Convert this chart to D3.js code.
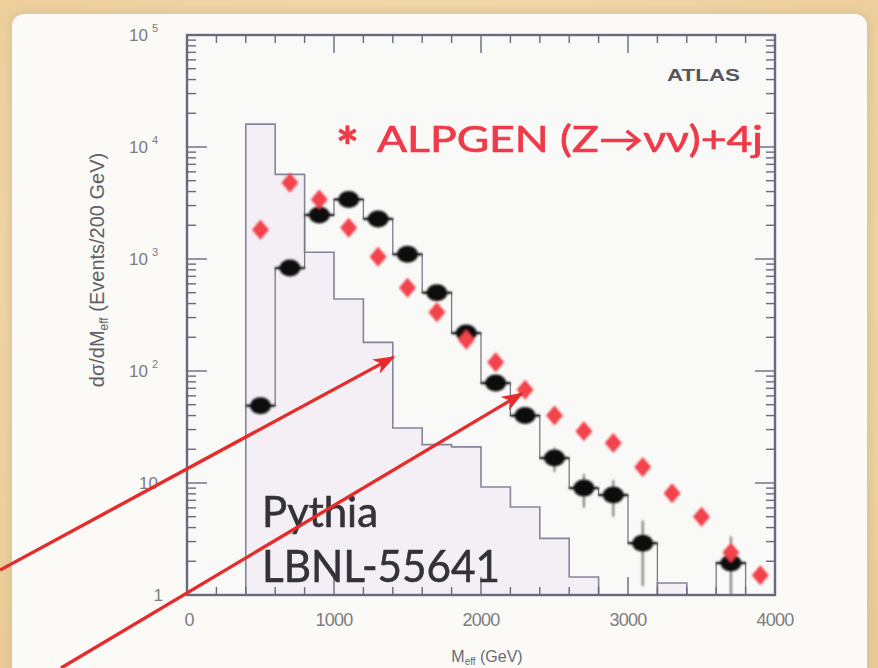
<!DOCTYPE html>
<html>
<head>
<meta charset="utf-8">
<script src="https://cdn.jsdelivr.net/npm/d3@7"></script>
<style>
  html, body { margin: 0; padding: 0; background: #efd5a4; }
  svg { display: block; }
</style>
</head>
<body>
<div id="chart"></div>
<script>
const width = 878, height = 668;

// 200 GeV bins, left edges (GeV)
const histEdges = [400, 600, 800, 1000, 1200, 1400, 1600, 1800, 2000, 2200, 2400, 2600, 2800, 3000, 3200, 3400, 3600];
// open histogram (events / 200 GeV), null = below the axis
const histValues = [16000, 5700, 1150, 440, 180, 31, 22, 21, 9.2, 6.1, 3.2, 1.45, null, null, 1.28, null];

// black points with their step outline, bin centres
const binCenters = [500, 700, 900, 1100, 1300, 1500, 1700, 1900, 2100, 2300, 2500, 2700, 2900, 3100, 3300, 3500, 3700, 3900];
const pythiaValues = [49, 830, 2470, 3400, 2280, 1100, 500, 218, 78, 40, 16.7, 9.0, 7.8, 2.9, null, null, 1.93, null];
const pythiaErrors = [7, 29, 50, 58, 48, 33, 22, 15, 9, 6.3, 4.1, 3.0, 2.8, 1.7, null, null, 1.4, null];
// red diamonds
const alpgenValues = [1820, 4800, 3400, 1900, 1050, 555, 335, 190, 120, 68, 40, 29, 22.8, 13.9, 8.1, 5.0, 2.4, 1.5];

const xTickLabels = [0, 1000, 2000, 3000, 4000];
const yDecades = [1, 10, 100, 1000, 10000, 100000];
const yExponents = ['', '', '2', '3', '4', '5'];

// annotation arrows, [start, tip] in data units (start lies off the plot)
const arrows = [
  [[-1272, 1.67], [1405, 133]],
  [[-857, 0.223], [2279, 63]]
];

const plot = { left: 187, right: 775, top: 35, bottom: 595 };

const x = d3.scaleLinear().domain([0, 4000]).range([plot.left, plot.right]);
const y = d3.scaleLog().domain([1, 1e5]).range([plot.bottom, plot.top]);
const yv = v => (v == null || v < 1) ? plot.bottom : y(v);

const svg = d3.select('#chart').append('svg')
  .attr('width', width)
  .attr('height', height);

const defs = svg.append('defs');
const bg = defs.append('radialGradient').attr('id', 'paper').attr('cx', '50%').attr('cy', '40%').attr('r', '75%');
bg.append('stop').attr('offset', '0%').attr('stop-color', '#f7e4c0');
bg.append('stop').attr('offset', '100%').attr('stop-color', '#ebcb93');
defs.append('filter').attr('id', 'soft').attr('x', '-20%').attr('y', '-20%').attr('width', '140%').attr('height', '140%')
  .append('feGaussianBlur').attr('stdDeviation', 0.8);
defs.append('filter').attr('id', 'blurText').attr('x', '-5%').attr('y', '-20%').attr('width', '110%').attr('height', '140%')
  .append('feGaussianBlur').attr('stdDeviation', 0.5);
defs.append('filter').attr('id', 'shadow').attr('x', '-5%').attr('y', '-5%').attr('width', '110%').attr('height', '110%')
  .append('feGaussianBlur').attr('stdDeviation', 5);
defs.append('marker')
  .attr('id', 'head')
  .attr('viewBox', '0 0 22 16')
  .attr('refX', 20).attr('refY', 8)
  .attr('markerWidth', 22).attr('markerHeight', 16)
  .attr('markerUnits', 'userSpaceOnUse')
  .attr('orient', 'auto')
  .append('path')
  .attr('d', 'M0,0 L22,8 L0,16 L6,8 Z')
  .attr('fill', '#e62b2b');

// slide background
svg.append('rect').attr('width', width).attr('height', height).attr('fill', 'url(#paper)');
svg.append('rect').attr('x', 10).attr('y', 12).attr('width', 860).attr('height', 700).attr('rx', 14)
  .attr('fill', '#d9c39a').attr('filter', 'url(#shadow)');
svg.append('rect').attr('x', 12).attr('y', 14).attr('width', 855).attr('height', 700).attr('rx', 12)
  .attr('fill', '#fbfaf6');

const g = svg.append('g');

// plot area
g.append('rect')
  .attr('x', plot.left).attr('y', plot.top)
  .attr('width', plot.right - plot.left).attr('height', plot.bottom - plot.top)
  .attr('fill', '#f9f9f8');

// filled open histogram
const histPts = histEdges.map((e, i) => [e, i < histValues.length ? histValues[i] : null]);
histPts.push([histEdges[histEdges.length - 1], null]);

g.append('path')
  .datum(histPts)
  .attr('d', d3.area().curve(d3.curveStepAfter)
    .x(d => x(d[0])).y0(plot.bottom).y1(d => yv(d[1])))
  .attr('fill', '#f3eff5');

g.append('path')
  .datum([[histEdges[0], null]].concat(histPts))
  .attr('d', d3.line().curve(d3.curveStepAfter).x(d => x(d[0])).y(d => yv(d[1])))
  .attr('fill', 'none')
  .attr('stroke', '#85859a')
  .attr('stroke-width', 1.6);

// step outline through the black points
const outline = binCenters.map((c, i) => [c - 100, pythiaValues[i]]);
outline.push([binCenters[binCenters.length - 1] + 100, null]);
g.append('path')
  .datum(outline)
  .attr('d', d3.line().curve(d3.curveStepAfter).x(d => x(d[0])).y(d => yv(d[1])))
  .attr('fill', 'none')
  .attr('stroke', '#7a7a86')
  .attr('stroke-width', 1.3);

// axis frame and ticks
const frame = g.append('g').attr('stroke', '#676a80').attr('fill', 'none');
frame.append('rect')
  .attr('x', plot.left).attr('y', plot.top)
  .attr('width', plot.right - plot.left).attr('height', plot.bottom - plot.top)
  .attr('stroke-width', 2.4);

const xTicks = d3.range(0, 4001, 200);
const isMajorX = t => t % 1000 === 0;
frame.selectAll('.xb').data(xTicks).enter().append('line')
  .attr('x1', d => x(d)).attr('x2', d => x(d))
  .attr('y1', plot.bottom).attr('y2', d => plot.bottom - (isMajorX(d) ? 18 : 8))
  .attr('stroke-width', 1.4);
frame.selectAll('.xt').data(xTicks).enter().append('line')
  .attr('x1', d => x(d)).attr('x2', d => x(d))
  .attr('y1', plot.top).attr('y2', d => plot.top + (isMajorX(d) ? 18 : 8))
  .attr('stroke-width', 1.4);

const yTicks = y.ticks();
const isMajorY = t => Math.abs(Math.log10(t) - Math.round(Math.log10(t))) < 1e-6;
frame.selectAll('.yl').data(yTicks).enter().append('line')
  .attr('y1', d => y(d)).attr('y2', d => y(d))
  .attr('x1', plot.left).attr('x2', d => plot.left + (isMajorY(d) ? 20 : 9))
  .attr('stroke-width', 1.4);
frame.selectAll('.yr').data(yTicks).enter().append('line')
  .attr('y1', d => y(d)).attr('y2', d => y(d))
  .attr('x1', plot.right).attr('x2', d => plot.right - (isMajorY(d) ? 20 : 9))
  .attr('stroke-width', 1.4);

// error bars and markers
const marks = g.append('g').attr('filter', 'url(#soft)');
const pts = binCenters.map((c, i) => ({ c, v: pythiaValues[i], e: pythiaErrors[i], a: alpgenValues[i] }));

marks.selectAll('.err').data(pts.filter(d => d.v != null)).enter().append('line')
  .attr('x1', d => x(d.c)).attr('x2', d => x(d.c))
  .attr('y1', d => yv(d.v + d.e)).attr('y2', d => yv(d.v - d.e))
  .attr('stroke', '#555').attr('stroke-width', 1.6);

marks.selectAll('.hbar').data(pts.filter(d => d.v != null)).enter().append('line')
  .attr('x1', d => x(d.c - 100)).attr('x2', d => x(d.c + 100))
  .attr('y1', d => yv(d.v)).attr('y2', d => yv(d.v))
  .attr('stroke', '#222').attr('stroke-width', 2.4);

marks.selectAll('.dot').data(pts.filter(d => d.v != null)).enter().append('ellipse')
  .attr('cx', d => x(d.c)).attr('cy', d => yv(d.v))
  .attr('rx', 10.5).attr('ry', 8.5)
  .attr('fill', '#0c0c0c');

marks.selectAll('.dia').data(pts).enter().append('path')
  .attr('d', d => {
    const cx = x(d.c), cy = y(d.a);
    return `M${cx},${cy - 10}L${cx + 8.5},${cy}L${cx},${cy + 10}L${cx - 8.5},${cy}Z`;
  })
  .attr('fill', '#f2424c');

// tick labels
const labelFont = '"Liberation Sans", Arial, sans-serif';
g.selectAll('.xlab').data(xTickLabels).enter().append('text')
  .attr('x', d => x(d) + (d === 0 ? 2 : 0)).attr('y', 626)
  .attr('text-anchor', 'middle')
  .attr('font-family', labelFont).attr('font-size', 18)
  .attr('letter-spacing', -0.8)
  .attr('fill', '#7c7c84')
  .text(d => d);

const ylab = g.selectAll('.ylab').data(yDecades).enter().append('text')
  .attr('x', d => d === 1 ? 163 : 158).attr('y', d => y(d) + 6)
  .attr('text-anchor', 'end')
  .attr('font-family', labelFont).attr('font-size', 17)
  .attr('fill', '#7c7c84');
ylab.append('tspan').text(d => d === 1 ? '1' : '10');
ylab.append('tspan')
  .attr('dx', 4).attr('dy', -9)
  .attr('font-size', 11)
  .text((d, i) => yExponents[i]);

// axis titles
const yTitle = g.append('text')
  .attr('transform', 'translate(104,270) rotate(-90)')
  .attr('text-anchor', 'middle')
  .attr('font-family', labelFont).attr('font-size', 20)
  .attr('fill', '#606068');
yTitle.append('tspan').text('dσ/dM');
yTitle.append('tspan').attr('font-size', 12).attr('dy', 4).text('eff');
yTitle.append('tspan').attr('dy', -4).text(' (Events/200 GeV)');

const xTitle = g.append('text')
  .attr('x', 487).attr('y', 662)
  .attr('text-anchor', 'middle')
  .attr('font-family', labelFont).attr('font-size', 16)
  .attr('fill', '#6a6a72');
xTitle.append('tspan').text('M');
xTitle.append('tspan').attr('font-size', 10).attr('dy', 3).text('eff');
xTitle.append('tspan').attr('dy', -3).text(' (GeV)');

// legend / labels on the plot
const humanist = 'Lato, "Open Sans", sans-serif';
g.append('text')
  .attr('x', 667).attr('y', 81)
  .attr('font-family', labelFont).attr('font-size', 16).attr('font-weight', 'bold')
  .attr('textLength', 73).attr('lengthAdjust', 'spacingAndGlyphs')
  .attr('fill', '#55555c')
  .text('ATLAS');

const red = g.append('g').attr('fill', '#ef3a48').attr('stroke', '#ef3a48').attr('stroke-width', 0.7)
  .attr('filter', 'url(#blurText)');
red.append('text')
  .attr('x', 336).attr('y', 166)
  .attr('font-family', humanist).attr('font-size', 54).attr('font-weight', 'bold')
  .text('*');
red.append('text')
  .attr('x', 377).attr('y', 152)
  .attr('font-family', humanist).attr('font-size', 36)
  .attr('textLength', 386).attr('lengthAdjust', 'spacingAndGlyphs')
  .text('ALPGEN (Z→νν)+4j');

const dark = g.append('g').attr('fill', '#333338').attr('stroke', '#333338').attr('stroke-width', 0.6)
  .attr('filter', 'url(#blurText)');
dark.append('text')
  .attr('x', 262).attr('y', 527)
  .attr('font-family', humanist).attr('font-size', 42)
  .attr('textLength', 116).attr('lengthAdjust', 'spacingAndGlyphs')
  .text('Pythia');
dark.append('text')
  .attr('x', 262).attr('y', 582)
  .attr('font-family', humanist).attr('font-size', 45)
  .attr('textLength', 238).attr('lengthAdjust', 'spacingAndGlyphs')
  .text('LBNL-55641');

// red annotation arrows
svg.selectAll('.arrow').data(arrows).enter().append('line')
  .attr('x1', d => x(d[0][0])).attr('y1', d => y(d[0][1]))
  .attr('x2', d => x(d[1][0])).attr('y2', d => y(d[1][1]))
  .attr('stroke', '#e62b2b')
  .attr('stroke-width', 3.4)
  .attr('marker-end', 'url(#head)');
</script>
</body>
</html>
